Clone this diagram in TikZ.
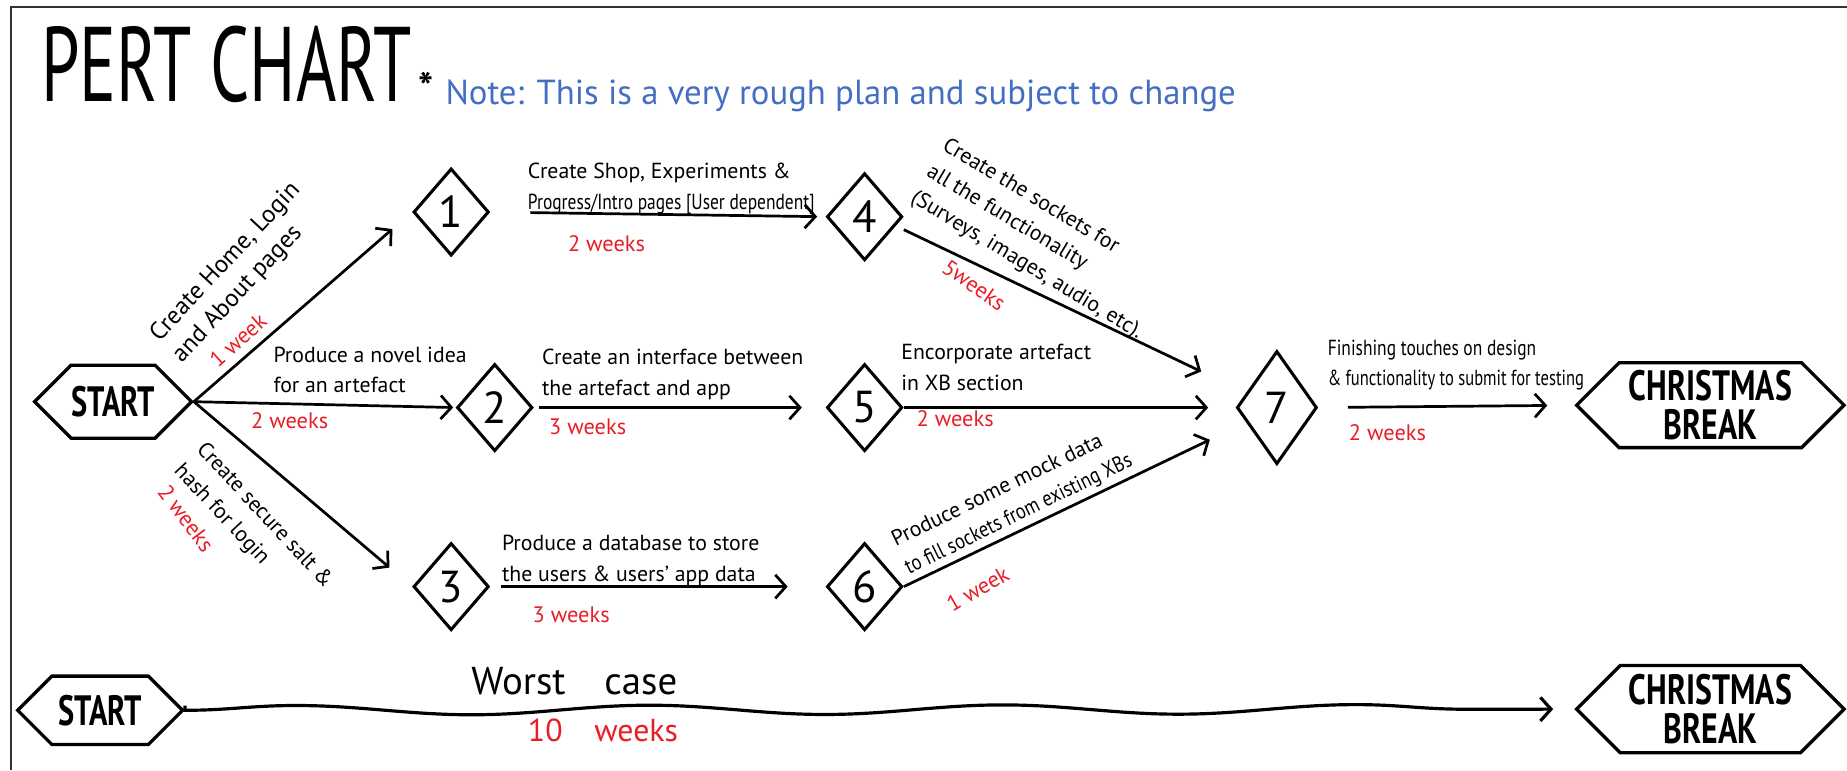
\documentclass[tikz,border=0pt]{standalone}
\usepackage{fontspec}
\setmainfont{PT Sans}
\usetikzlibrary{shapes.geometric, shapes.symbols, arrows.meta, decorations.pathmorphing}

\definecolor{WeekRed}{RGB}{232,30,38}
\definecolor{NoteBlue}{RGB}{68,110,196}

\newcommand{\squeezed}[2]{\scalebox{#1}[1]{#2}}

\tikzset{
    event/.style={
        draw, diamond, line width=2.6pt, inner sep=0pt,
        minimum width=64pt, minimum height=74pt,
        font=\fontsize{38}{38}\selectfont
    },
    terminal/.style={
        draw, signal, signal to=west and east, signal pointer angle=90,
        line width=2.8pt, inner sep=0pt, align=center,
        font=\bfseries\fontsize{36}{33}\selectfont
    },
    task/.style={
        draw, line width=2.3pt, -{Straight Barb[length=9pt, width=20pt]}
    },
    task text/.style={
        align=left, inner sep=0pt, font=\fontsize{18.5}{26}\selectfont
    },
    duration/.style={
        text=WeekRed, inner sep=0pt, font=\fontsize{19}{19}\selectfont
    },
}

\begin{document}
\begin{tikzpicture}[x=1pt, y=-1pt]

    \useasboundingbox (0,0) rectangle (1568,654);
    \draw[line width=2pt, black!80] (9.5,654) -- (9.5,6) -- (1568,6);

    % heading
    \node[anchor=west, inner sep=0pt, font=\fontsize{90}{90}\selectfont] (title) at (35,55) {\squeezed{0.65}{PERT CHART}};
    \node[inner sep=0pt, font=\bfseries\fontsize{34}{34}\selectfont] (star) at (362,74) {*};
    \node[anchor=west, inner sep=0pt, text=NoteBlue, font=\fontsize{29.5}{29.5}\selectfont] (note) at (378,81) {Note: This is a very rough plan and subject to change};

    % events
    \node[terminal, minimum width=132pt, minimum height=62pt] (start) at (96,341) {\squeezed{0.72}{START}};
    \node[event] (n1) at (383,180) {1};
    \node[event] (n2) at (420,346) {2};
    \node[event] (n3) at (383,498) {3};
    \node[event] (n4) at (734,184) {4};
    \node[event] (n5) at (734,346) {5};
    \node[event] (n6) at (734,498) {6};
    \node[event, minimum width=68pt, minimum height=96pt] (n7) at (1084,346) {7};
    \node[terminal, minimum width=227pt, minimum height=72pt] (xmas) at (1452,344) {\squeezed{0.75}{CHRISTMAS}\\\squeezed{0.75}{BREAK}};

    \node[terminal, minimum width=140pt, minimum height=58pt] (start2) at (85,603) {\squeezed{0.72}{START}};
    \node[terminal, minimum width=227pt, minimum height=74pt] (xmas2) at (1452,602) {\squeezed{0.75}{CHRISTMAS}\\\squeezed{0.75}{BREAK}};

    % tasks
    \draw[task, shorten >=22pt] (start.east) -- (n1.west);
    \draw[task, shorten >=2pt] (start.east) -- (n2.west);
    \draw[task, shorten >=25pt] (start.east) -- (n3.west);
    \draw[task, shorten <=34pt, shorten >=7pt] (n1.east) -- (n4.west);
    \draw[task, shorten <=4pt, shorten >=20pt] (n2.east) -- (n5.west);
    \draw[task, shorten <=9pt, shorten >=32pt] (n3.east) -- (n6.west);
    \draw[task, shorten >=42pt] ([yshift=-11pt]n4.east) -- (n7);
    \draw[task, shorten >=23pt] (n5.east) -- (n7.west);
    \draw[task, shorten >=34pt] (n6.east) -- (n7);
    \draw[task, shorten <=25pt, shorten >=23pt] (n7.east) -- (xmas.west);

    \draw[task, line width=2.7pt, decorate, decoration={snake, amplitude=4pt, segment length=300pt, post length=30pt}, shorten <=4pt, shorten >=18pt] (start2.east) -- (xmas2.west);

    % task labels
    \node[task text, anchor=west, rotate=47, font=\fontsize{21}{26}\selectfont] (t01) at (141,296) {Create Home, Login\\and About pages};
    \node[duration, rotate=42] (w01) at (202,289) {1 week};
    \node[task text, anchor=west] (t02) at (232,314) {Produce a novel idea\\for an artefact};
    \node[duration, anchor=west] (w02) at (213,357) {2 weeks};
    \node[task text, anchor=west, rotate=-47] (t03) at (160,388) {Create secure salt \&\\hash for login};
    \node[duration, rotate=-53] (w03) at (158,440) {2 weeks};

    \node[task text, anchor=west] (t14) at (448,160) {Create Shop, Experiments \&\\\squeezed{0.8}{Progress/Intro pages [User dependent]}};
    \node[duration, anchor=west] (w14) at (482,207) {2 weeks};
    \node[task text, anchor=west] (t25) at (460,318) {Create an interface between\\the artefact and app};
    \node[duration, anchor=west] (w25) at (466,362) {3 weeks};
    \node[task text, anchor=west] (t36) at (426,476) {Produce a database to store\\the users \& users' app data};
    \node[duration, anchor=west] (w36) at (452,522) {3 weeks};

    \node[task text, anchor=west, rotate=-31] (t47) at (788,145) {Create the sockets for\\all the functionality\\(Surveys, images, audio, etc).};
    \node[duration, rotate=-35] (w47) at (827,242) {5weeks};
    \node[task text, anchor=west] (t57) at (765,312) {Encorporate artefact\\in XB section};
    \node[duration, anchor=west] (w57) at (778,355) {2 weeks};
    \node[task text, anchor=west, rotate=26] (t67) at (764,472) {Produce some mock data\\\squeezed{0.85}{to fill sockets from existing XBs}};
    \node[duration, rotate=30] (w67) at (830,500) {1 week};

    \node[task text, anchor=west] (t7x) at (1127,310) {\squeezed{0.8}{Finishing touches on design}\\\squeezed{0.76}{\& functionality to submit for testing}};
    \node[duration, anchor=west] (w7x) at (1145,367) {2 weeks};

    % worst case
    \node[anchor=west, inner sep=0pt, font=\fontsize{33}{33}\selectfont] (worst) at (400,578) {Worst\quad case};
    \node[duration, anchor=west, font=\fontsize{27}{27}\selectfont] (w10) at (448,620) {10\quad weeks};

\end{tikzpicture}
\end{document}
